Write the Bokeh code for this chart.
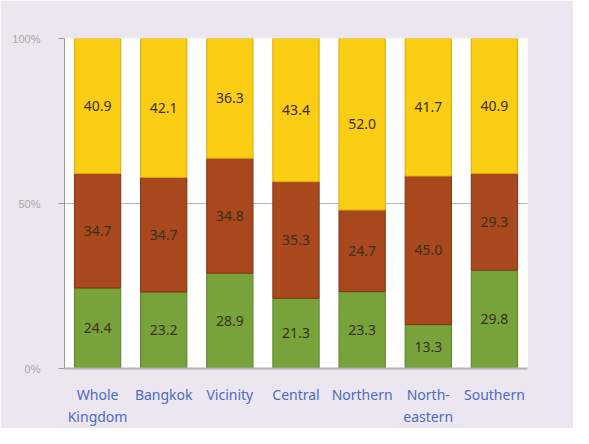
from bokeh.plotting import figure
from bokeh.models import (FactorRange, Legend, LegendItem, FixedTicker, ColumnDataSource,
                          PrintfTickFormatter, CategoricalAxis, CustomJSTickFormatter)
from bokeh.core.properties import value
from bokeh.embed import file_html
from bokeh.resources import INLINE

categories = ["Whole Kingdom", "Bangkok", "Vicinity", "Central", "Northern", "North-eastern", "Southern"]
label_line1 = ["Whole", "Bangkok", "Vicinity", "Central", "Northern", "North-", "Southern"]
label_line2 = ["Kingdom", "", "", "", "", "eastern", ""]
low = [24.4, 23.2, 28.9, 21.3, 23.3, 13.3, 29.8]
mid = [34.7, 34.7, 34.8, 35.3, 24.7, 45.0, 29.3]
high = [40.9, 42.1, 36.3, 43.4, 52.0, 41.7, 40.9]
series = ["low", "mid", "high"]
series_labels = ["< 20%", "20-49%", "> 50% or more"]
colors = ["#78a33a", "#a9481c", "#fbcd14"]
edge_colors = ["#5c8226", "#7f3512", "#d9a90a"]
y_ticks = [0, 50, 100]
axis_title = "Region"

bg = "#ece6f1"
blue = "#4a6cc2"
W, H = 573, 428
ML, MR = 64, 46
src = ColumnDataSource(dict(cat=categories, low=low, mid=mid, high=high))

p = figure(x_range=FactorRange(*categories, range_padding=0), y_range=(0, 100),
           width=W, height=H, output_backend="svg", toolbar_location=None,
           background_fill_color="white", border_fill_color=bg,
           min_border_left=ML, min_border_right=MR, min_border_bottom=0, min_border_top=38)
p.outline_line_color = None

rs = p.vbar_stack(series, x="cat", width=0.7, source=src, fill_color=colors,
                  line_color=edge_colors, line_width=1)

# value labels centered in segments
tx, ty, tt = [], [], []
for i, c in enumerate(categories):
    b = 0.0
    for arr in (low, mid, high):
        v = arr[i]
        tx.append(c); ty.append(b + v / 2); tt.append(f"{v:.1f}")
        b += v
p.text(x=tx, y=ty, text=tt, text_align="center", text_baseline="middle",
       text_font_size="14px", text_color="#3a3020", text_font=value("Noto Sans"))

legend = Legend(items=[LegendItem(label=series_labels[i], renderers=[rs[i]]) for i in range(3)],
                orientation="horizontal", location=(58, 343),
                background_fill_alpha=0, border_line_color=None,
                label_text_font_size="11px", label_text_color="#9a9a9a",
                glyph_width=9, glyph_height=9, spacing=14, padding=2, margin=0,
                label_standoff=5, label_height=12)
p.add_layout(legend)

# axis title "Region" at the right end of the x axis (legend-based text, no visible glyph)
ghost = p.scatter(x=[], y=[], fill_alpha=0, line_alpha=0)
title_leg = Legend(items=[LegendItem(label=axis_title, renderers=[ghost])],
                   location=(W - ML - MR + 2, -7), background_fill_alpha=0,
                   border_line_color=None, glyph_width=0, glyph_height=14,
                   label_standoff=0, padding=0, margin=0, label_height=14,
                   label_text_color=blue, label_text_font_size="12px",
                   label_text_font="Noto Sans")
p.add_layout(title_leg)

p.xgrid.grid_line_color = None
p.ygrid.ticker = FixedTicker(ticks=y_ticks)
p.ygrid.grid_line_color = "#b5b5b5"

p.yaxis.ticker = FixedTicker(ticks=y_ticks)
p.yaxis.formatter = PrintfTickFormatter(format="%d%%")
p.yaxis.major_label_text_color = "#a8a8a8"
p.yaxis.major_label_text_font_size = "11px"
p.yaxis.axis_line_color = "#9a9a9a"
p.yaxis.major_tick_line_color = "#9a9a9a"
p.yaxis.major_tick_in = 0
p.yaxis.major_tick_out = 6
p.yaxis.minor_tick_line_color = None
p.yaxis.major_label_standoff = 18

fmt_code = "const i = cats.indexOf(tick); return i >= 0 ? labels[i] : tick;"

xa = p.xaxis[0]
xa.formatter = CustomJSTickFormatter(args=dict(cats=categories, labels=label_line1), code=fmt_code)
xa.axis_line_color = "#b0b0b0"
xa.axis_line_width = 2
xa.major_tick_line_color = None
xa.major_tick_in = 0
xa.major_tick_out = 0
xa.axis_label_standoff = 0
xa.major_label_text_color = blue
xa.major_label_text_font_size = "14px"
xa.major_label_text_font = "Noto Sans"
xa.major_label_standoff = 16

xa2 = CategoricalAxis(formatter=CustomJSTickFormatter(args=dict(cats=categories, labels=label_line2), code=fmt_code),
                      axis_line_color=None, major_tick_line_color=None,
                      major_tick_in=0, major_tick_out=0, axis_label_standoff=0,
                      major_label_text_color=blue, major_label_text_font_size="14px",
                      major_label_text_font="Noto Sans", major_label_standoff=0)
p.add_layout(xa2, "below")

open("out.html", "w").write(file_html(p, INLINE))
